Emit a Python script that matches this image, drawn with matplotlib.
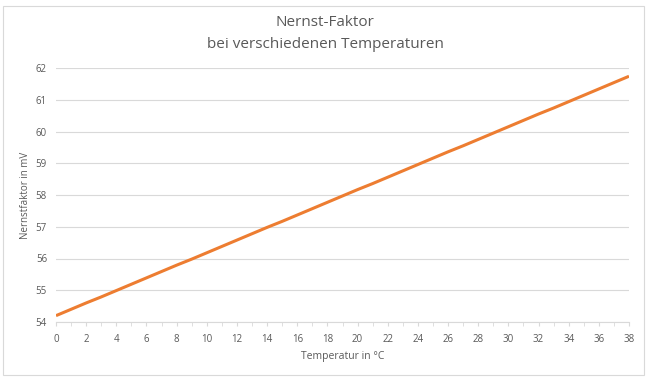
import matplotlib.pyplot as plt
from matplotlib.patches import Rectangle

temps = list(range(0, 39))
nernst = [54.20, 54.40, 54.60, 54.79, 54.99, 55.19, 55.39, 55.59, 55.79, 55.98,
          56.18, 56.38, 56.58, 56.78, 56.98, 57.17, 57.37, 57.57, 57.77, 57.97,
          58.17, 58.36, 58.56, 58.76, 58.96, 59.16, 59.36, 59.55, 59.75, 59.95,
          60.15, 60.35, 60.55, 60.74, 60.94, 61.14, 61.34, 61.54, 61.74]
y_ticks = [54, 55, 56, 57, 58, 59, 60, 61, 62]

grey = "#595959"
light = "#D9D9D9"
plt.rcParams['font.family'] = ['Open Sans', 'DejaVu Sans']

fig = plt.figure(figsize=(6.5, 3.81), dpi=100)
fig.patches.append(Rectangle((3 / 650, 6 / 381), 641 / 650, 369 / 381,
                             transform=fig.transFigure, fill=False,
                             edgecolor=light, linewidth=0.8))

ax = fig.add_axes([56 / 650, 1 - 322 / 381, 573 / 650, 254 / 381])
ax.plot(temps, nernst, color="#ED7D31", linewidth=2.2, solid_capstyle="butt")

ax.set_xlim(0, 38)
ax.set_ylim(54, 62)
ax.set_yticks(y_ticks)
ax.set_xticks(range(0, 39, 2))
ax.set_xticks(range(0, 39), minor=True)
ax.grid(axis="y", color=light, linewidth=0.8)
ax.set_axisbelow(True)

for s in ["top", "right", "left"]:
    ax.spines[s].set_visible(False)
ax.spines["bottom"].set_color(light)
ax.spines["bottom"].set_linewidth(0.8)

ax.tick_params(axis="y", length=0, pad=6.5, labelsize=7, labelcolor=grey)
ax.tick_params(axis="x", which="both", direction="out", length=3, color=light,
               labelsize=7, labelcolor=grey, pad=6)

ax.set_xlabel("Temperatur in °C", fontsize=7.5, color=grey, va="center")
ax.set_ylabel("Nernstfaktor in mV", fontsize=7, color=grey, va="center")
ax.xaxis.set_label_coords(0.5, -35 / 254)
ax.yaxis.set_label_coords(-30 / 573, 0.5)

fig.text(0.5, 1 - 22 / 381, "Nernst-Faktor", ha="center", va="center",
         fontsize=11, color=grey)
fig.text(0.5, 1 - 45 / 381, "bei verschiedenen Temperaturen", ha="center",
         va="center", fontsize=11, color=grey)

fig.savefig("out.png", dpi=100)
